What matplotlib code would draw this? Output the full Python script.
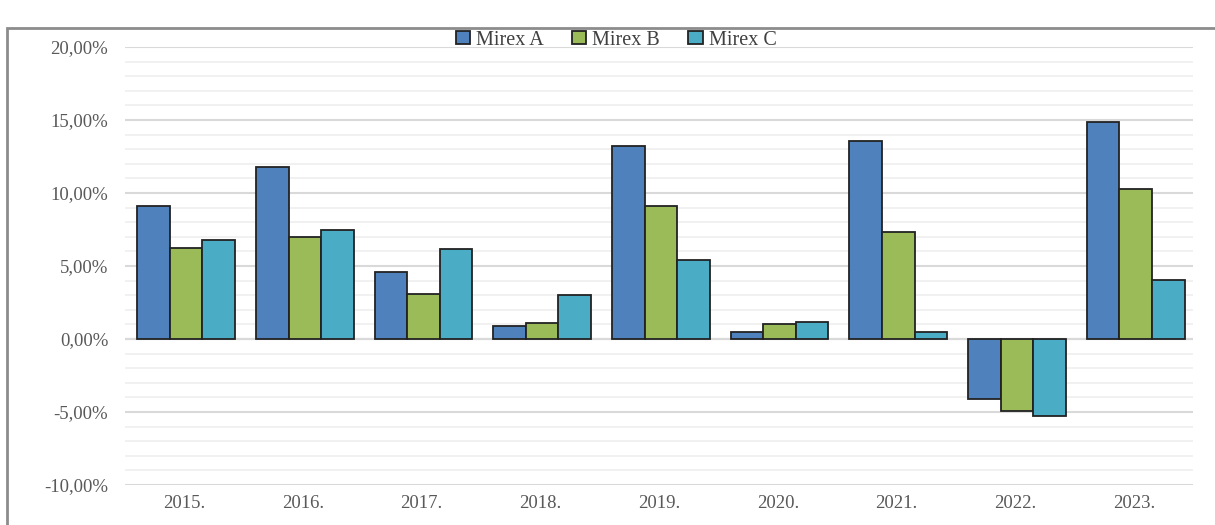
import numpy as np
import matplotlib.pyplot as plt
from matplotlib.patches import Rectangle
from matplotlib.ticker import MultipleLocator, FuncFormatter

years = ['2015.', '2016.', '2017.', '2018.', '2019.', '2020.', '2021.', '2022.', '2023.']
mirex_a = [9.1, 11.8, 4.6, 0.9, 13.2, 0.45, 13.55, -4.1, 14.85]
mirex_b = [6.2, 7.0, 3.1, 1.1, 9.1, 1.0, 7.35, -4.95, 10.25]
mirex_c = [6.8, 7.45, 6.15, 3.0, 5.4, 1.15, 0.45, -5.25, 4.05]

series = [('Mirex A', mirex_a, '#4F81BD'),
          ('Mirex B', mirex_b, '#9BBB59'),
          ('Mirex C', mirex_c, '#4BACC6')]

plt.rcParams['font.family'] = ['Liberation Serif', 'DejaVu Serif']

fig = plt.figure(figsize=(12.15, 5.25), dpi=100)
ax = fig.add_axes([0.1029, 0.0762, 0.8791, 0.8343])

# outer chart frame (clipped at right/bottom like the screenshot)
fig.patches.append(Rectangle((7 / 1215, -0.05), 1.1, (525 - 28) / 525 + 0.05,
                             transform=fig.transFigure, fill=False,
                             edgecolor='#8c8c8c', linewidth=2, zorder=0))

x = np.arange(len(years))
w = 0.275
for i, (name, vals, col) in enumerate(series):
    ax.bar(x + (i - 1) * w + 0.015, vals, w, color=col, edgecolor='#222222',
           linewidth=1.3, label=name, zorder=3)

ax.set_xlim(-0.5, len(years) - 0.5)
ax.set_ylim(-10, 20)
ax.yaxis.set_major_locator(MultipleLocator(5))
ax.yaxis.set_minor_locator(MultipleLocator(1))
ax.yaxis.set_major_formatter(FuncFormatter(lambda v, p: ('%.2f%%' % v).replace('.', ',')))
ax.grid(axis='y', which='major', color='#d9d9d9', linewidth=1.5, zorder=0)
ax.grid(axis='y', which='minor', color='#efefef', linewidth=1.2, zorder=0)
ax.axhline(0, color='#d0d0d0', linewidth=1.5, zorder=1)

ax.set_xticks(x)
ax.set_xticklabels(years)
for s in ax.spines.values():
    s.set_visible(False)
ax.tick_params(axis='both', which='both', length=0, labelsize=13.5, labelcolor='#595959')
ax.tick_params(axis='y', pad=12)
ax.tick_params(axis='x', pad=7)

ax.legend(loc='upper center', bbox_to_anchor=(0.46, 1.078), ncol=3, frameon=False,
          fontsize=14.5, handlelength=0.7, handleheight=0.6, handletextpad=0.3,
          columnspacing=1.4, labelcolor='#404040')

fig.savefig('out.png', dpi=100)
